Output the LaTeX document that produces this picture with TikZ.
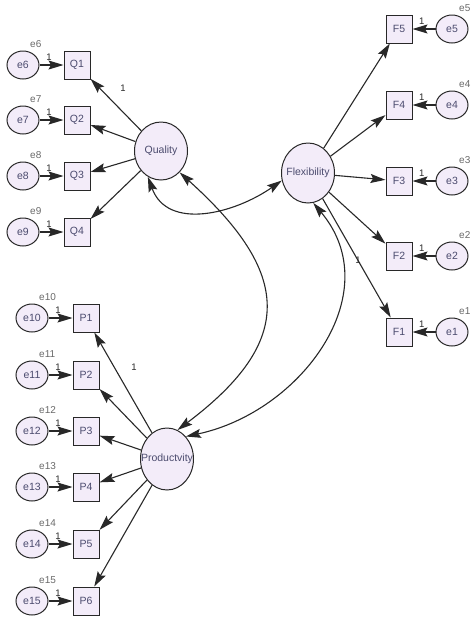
\documentclass[tikz,border=0pt]{standalone}
\usepackage{fontspec}
\setmainfont{Liberation Sans}
\usetikzlibrary{arrows.meta,positioning,shapes.geometric,calc}
\definecolor{semline}{RGB}{40,40,40}
\definecolor{semfill}{RGB}{243,236,249}
\definecolor{semtext}{RGB}{75,75,110}
\definecolor{semlab}{RGB}{105,105,105}
\tikzset{
  latent/.style={ellipse, draw=semline, line width=1pt, fill=semfill, inner sep=0pt,
                 minimum width=53pt},
  lattext/.style={font=\fontsize{10.5}{12}\selectfont, text=semtext, inner sep=0pt},
  errc/.style={ellipse, draw=semline, line width=1pt, fill=semfill, inner sep=0pt,
               minimum width=32pt, minimum height=28pt,
               font=\fontsize{10.5}{12}\selectfont, text=semtext},
  obs/.style={rectangle, draw=semline, line width=1pt, fill=semfill, inner sep=0pt,
              minimum width=26pt, minimum height=28pt,
              font=\fontsize{10.5}{12}\selectfont, text=semtext},
  elab/.style={font=\fontsize{10}{12}\selectfont, text=semlab, anchor=base west, inner sep=0pt},
  wlab/.style={font=\fontsize{9.5}{10}\selectfont, text=semline, inner sep=1pt},
  reg/.style={-{Stealth[length=15pt, width=9pt, inset=2.5pt]}, semline, line width=1.1pt},
  cov/.style={{Stealth[length=15pt, width=9pt, inset=2.5pt]}-{Stealth[length=15pt, width=9pt, inset=2.5pt]},
              semline, line width=1.1pt},
}
\begin{document}
\begin{tikzpicture}[x=1pt, y=-1pt]
    \useasboundingbox (0,0) rectangle (474,625);
    % latent variables
    \foreach \n/\t/\x/\y/\h in {Quality/Quality/161/151/58, Flexibility/Flexibility/308/173/60,
                                Productivity/Productvity/167/459/62}{
      \node[latent, minimum height=\h pt] (\n) at (\x,\y) {};
      \node[lattext] (t\n) at (\n) {\t};}
    % quality items
    \foreach \i/\e/\y in {1/6/65, 2/7/120, 3/8/176, 4/9/232}{
      \node[obs] (Q\i) at (77,\y) {Q\i};
      \node[errc] (e\e) at (23,\y) {e\e};
      \node[elab] (le\e) at ($(e\e)+(7,-18)$) {e\e};
      \draw[reg] (e\e) -- node[wlab, above=3pt, pos=0.4] (w\e) {1} (Q\i);
      \draw[reg] (Quality) -- (Q\i);}
    % flexibility items
    \foreach \i/\y in {5/29, 4/105, 3/181, 2/256, 1/332}{
      \node[obs] (F\i) at (399,\y) {F\i};
      \node[errc] (e\i) at (452,\y) {e\i};
      \node[elab] (le\i) at ($(e\i)+(7,-18)$) {e\i};
      \draw[reg] (e\i) -- node[wlab, above=3pt, pos=0.6] (w\i) {1} (F\i);
      \draw[reg] (Flexibility) -- (F\i);}
    % productivity items
    \foreach \i/\e/\y in {1/10/318, 2/11/375, 3/12/431, 4/13/487, 5/14/544, 6/15/601}{
      \node[obs] (P\i) at (86,\y) {P\i};
      \node[errc] (e\e) at (32,\y) {e\e};
      \node[elab] (le\e) at ($(e\e)+(7,-18)$) {e\e};
      \draw[reg] (e\e) -- node[wlab, above=3pt, pos=0.4] (w\e) {1} (P\i);
      \draw[reg] (Productivity) -- (P\i);}
    \node[wlab] (wq) at (123,88) {1};
    \node[wlab] (wf) at (358,260) {1};
    \node[wlab] (wp) at (134,367) {1};
    % covariances
    \draw[cov] (Quality.-117) to[out=-70, in=215, looseness=1.1] (Flexibility.196);
    \draw[cov] (Quality.-49) to[out=-42, in=37, looseness=1.48] (Productivity.70);
    \draw[cov] (Flexibility.-80) to[out=-50, in=12, looseness=1.13] (Productivity.50);
  \end{tikzpicture}
\end{document}
